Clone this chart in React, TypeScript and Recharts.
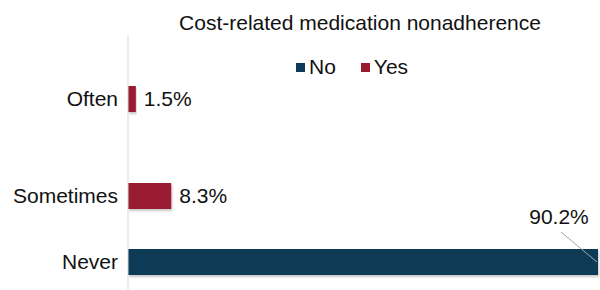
import { BarChart, Bar, XAxis, YAxis, LabelList } from "recharts"

// survey answers, top to bottom
const categories = ["Often", "Sometimes", "Never"]
const noValues = [0, 0, 90.2]
const yesValues = [1.5, 8.3, 0]
const seriesNames = ["No", "Yes"]
const seriesColors = ["#0c3a57", "#991b30"]
const title = "Cost-related medication nonadherence"

const FONT = "'Liberation Sans', Arial, sans-serif"
const TEXT = "#111"
const BAR_SIZE = 26
const BAR_GAP = 5
// bars of a group sit above/below the band centre; labels follow the bar that has a value
const BAR_SHIFT = (BAR_SIZE + BAR_GAP) / 2

const data = categories.map((name, i) => ({
  name,
  no: noValues[i],
  yes: yesValues[i],
}))

function CategoryTick(props: any) {
  const { x, y, payload } = props
  const i = categories.indexOf(payload.value)
  const shift = yesValues[i] > 0 ? BAR_SHIFT : -BAR_SHIFT
  return (
    <text x={x} y={y + shift} dy="0.355em" textAnchor="end" fontSize={21} fill={TEXT} fontFamily={FONT}>
      {payload.value}
    </text>
  )
}

function ValueLabel(props: any) {
  const { x, y, width, height, value } = props
  if (!value) return null
  const endX = Number(x) + Number(width)
  const midY = Number(y) + Number(height) / 2
  const txt = `${Number(value).toFixed(1)}%`
  if (value > 50) {
    // no room on the right: callout above the bar end
    return (
      <g>
        <line x1={endX - 37} y1={Number(y) - 17} x2={endX - 1} y2={midY} stroke="#a6a6a6" strokeWidth={1} />
        <text x={endX - 39} y={Number(y) - 25} textAnchor="middle" fontSize={21} fill={TEXT} fontFamily={FONT}>
          {txt}
        </text>
      </g>
    )
  }
  return (
    <text x={endX + 8} y={midY} dy="0.355em" fontSize={21} fill={TEXT} fontFamily={FONT}>
      {txt}
    </text>
  )
}

export default function App() {
  return (
    <div
      style={{
        position: "absolute",
        left: 0,
        top: 0,
        width: 600,
        height: 290,
        overflow: "hidden",
        background: "#fff",
        fontFamily: FONT,
      }}
    >
      <div style={{ position: "absolute", left: 0, width: 720, top: 10, textAlign: "center", fontSize: 21, lineHeight: "26px", color: TEXT }}>
        {title}
      </div>
      <div style={{ position: "absolute", left: 296, top: 54, display: "flex", alignItems: "center", fontSize: 21, lineHeight: "26px", color: TEXT, zIndex: 2 }}>
        {seriesNames.map((s, i) => (
          <div key={s} style={{ display: "flex", alignItems: "center", marginRight: 25 }}>
            <span style={{ width: 9, height: 9, background: seriesColors[i], marginRight: 4, display: "inline-block" }} />
            <span>{s}</span>
          </div>
        ))}
      </div>
      <BarChart
        layout="vertical"
        data={data}
        width={600}
        height={326}
        margin={{ top: 35, right: 2, bottom: 0, left: 0 }}
        barSize={BAR_SIZE}
        barGap={BAR_GAP}
      >
        <defs>
          <filter id="barShadow" x="-5%" y="-20%" width="115%" height="160%">
            <feDropShadow dx={1} dy={2} stdDeviation={1} floodColor="#000" floodOpacity={0.22} />
          </filter>
        </defs>
        <XAxis type="number" domain={[0, 90.2]} hide />
        <YAxis
          type="category"
          dataKey="name"
          width={128}
          tickLine={false}
          tickSize={0}
          tickMargin={10}
          axisLine={{ stroke: "#d9d9d9", strokeWidth: 1 }}
          tick={<CategoryTick />}
          interval={0}
        />
        <Bar dataKey="no" name={seriesNames[0]} fill={seriesColors[0]} filter="url(#barShadow)" isAnimationActive={false}>
          <LabelList dataKey="no" content={<ValueLabel />} />
        </Bar>
        <Bar dataKey="yes" name={seriesNames[1]} fill={seriesColors[1]} filter="url(#barShadow)" isAnimationActive={false}>
          <LabelList dataKey="yes" content={<ValueLabel />} />
        </Bar>
      </BarChart>
    </div>
  )
}
